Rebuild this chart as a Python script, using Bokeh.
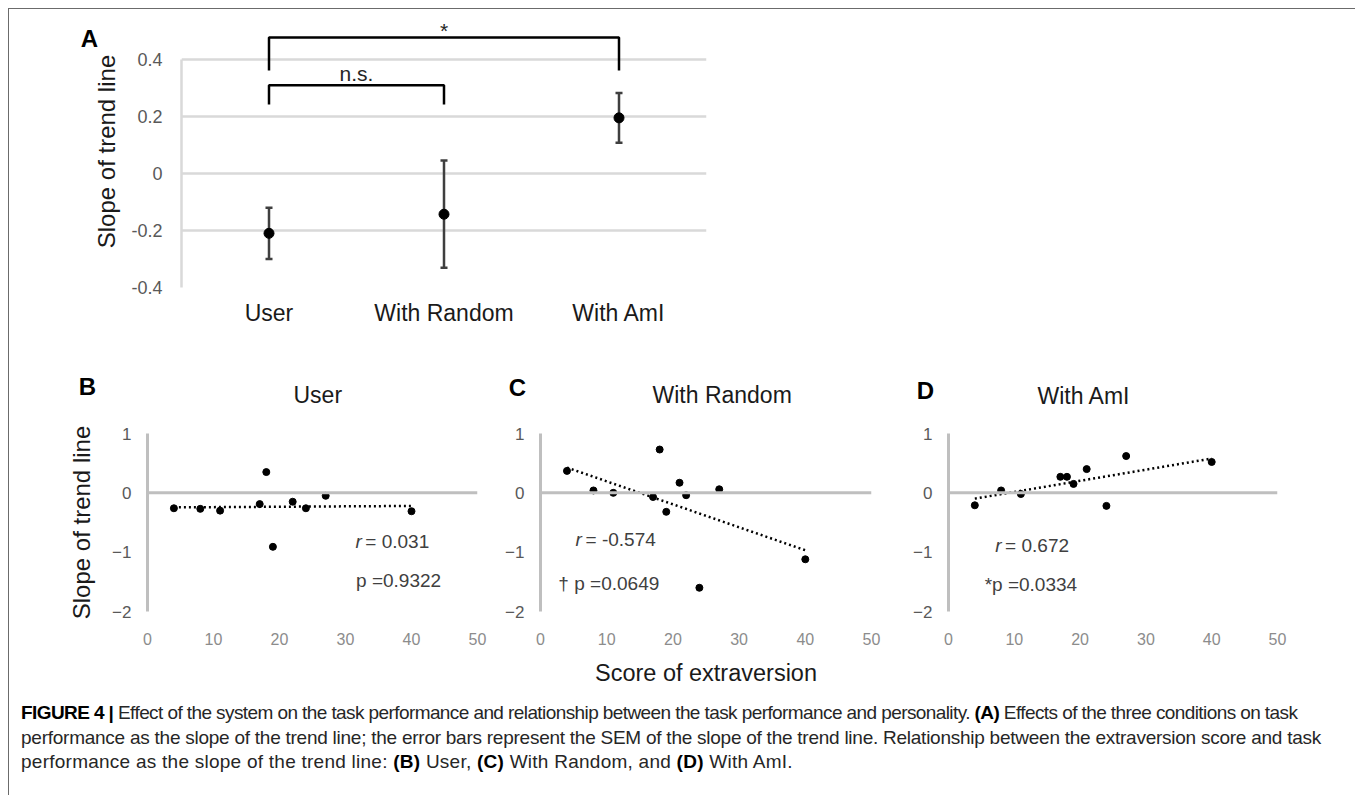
import numpy as np
from bokeh.plotting import figure
from bokeh.models import Range1d, FixedTicker, Span, CustomJSTickFormatter, Div
from bokeh.layouts import column, row
from bokeh.embed import file_html
from bokeh.resources import INLINE
from bokeh.core.properties import value

# ---------------- data ----------------
# Panel A
conditions = ["User", "With Random", "With AmI"]
cond_pos = [1, 2, 3]
slope_mean = [-0.21, -0.143, 0.195]
slope_sem = [0.09, 0.188, 0.087]

# significance brackets (pairs of condition positions)
bracket_left = [1, 1]
bracket_right = [3, 2]
bracket_top = [0.477, 0.309]
bracket_foot = [0.361, 0.242]
bracket_text = ["*", "n.s."]
bracket_text_y = [0.50, 0.352]

# Panels B-D : extraversion score vs slope of trend line
user_x = [4, 8, 11, 17, 18, 19, 22, 24, 27, 40]
user_y = [-0.26, -0.27, -0.30, -0.19, 0.35, -0.91, -0.15, -0.26, -0.05, -0.31]
random_x = [4, 8, 11, 17, 18, 19, 21, 22, 24, 27, 40]
random_y = [0.37, 0.04, 0.0, -0.07, 0.73, -0.32, 0.17, -0.04, -1.60, 0.06, -1.12]
aml_x = [4, 8, 11, 17, 18, 19, 21, 24, 27, 40]
aml_y = [-0.21, 0.04, -0.02, 0.27, 0.27, 0.15, 0.40, -0.22, 0.62, 0.52]

x_ticks = [0, 10, 20, 30, 40, 50]
y_ticks = [-2, -1, 0, 1]
a_ticks = [-0.4, -0.2, 0, 0.2, 0.4]

stats_r = ["0.031", "-0.574", "0.672"]
stats_p = ["p =0.9322", "\u2020 p =0.0649", "*p =0.0334"]

FONT = "Liberation Sans"
NUMFONT = "Liberation Sans"

# ---------------- Panel A ----------------
pA = figure(width=720, height=325, x_range=Range1d(0.5, 3.5), y_range=Range1d(-0.4, 0.554),
            output_backend="svg", toolbar_location=None,
            min_border_left=172, min_border_right=23, min_border_top=6, min_border_bottom=47)
pA.outline_line_color = None
pA.xgrid.visible = False
pA.ygrid.ticker = FixedTicker(ticks=a_ticks)
pA.ygrid.grid_line_color = "#d9d9d9"
pA.ygrid.grid_line_width = 2.5
pA.yaxis.ticker = FixedTicker(ticks=a_ticks)
pA.yaxis.formatter = CustomJSTickFormatter(code="return tick.toFixed(1).replace(/\\.0$/, '');")
pA.yaxis.bounds = (-0.4, 0.4)
pA.yaxis.axis_line_color = "#d9d9d9"
pA.yaxis.axis_line_width = 2.5
pA.yaxis.major_tick_line_color = None
pA.yaxis.minor_tick_line_color = None
pA.yaxis.major_label_text_font = NUMFONT
pA.yaxis.major_label_text_font_size = "18px"
pA.yaxis.major_label_text_color = "#595959"
pA.yaxis.major_label_standoff = 13
pA.yaxis.axis_label = "Slope of trend line"
pA.yaxis.axis_label_text_font = FONT
pA.yaxis.axis_label_text_font_style = "normal"
pA.yaxis.axis_label_text_font_size = "24px"
pA.yaxis.axis_label_text_color = "#1a1a1a"
pA.yaxis.axis_label_standoff = 8
pA.xaxis.ticker = FixedTicker(ticks=cond_pos)
pA.xaxis.major_label_overrides = {p: c for p, c in zip(cond_pos, conditions)}
pA.xaxis.axis_line_color = None
pA.xaxis.major_tick_line_color = None
pA.xaxis.minor_tick_line_color = None
pA.xaxis.major_label_text_font = FONT
pA.xaxis.major_label_text_font_size = "23px"
pA.xaxis.major_label_text_color = "#1a1a1a"
pA.xaxis.major_label_standoff = 6

lo = [m - s for m, s in zip(slope_mean, slope_sem)]
hi = [m + s for m, s in zip(slope_mean, slope_sem)]
pA.segment(x0=cond_pos, y0=lo, x1=cond_pos, y1=hi, line_color="#3f3f3f", line_width=2.5)
pA.scatter(x=cond_pos + cond_pos, y=lo + hi, marker="dash", size=7, line_width=2.5, line_color="#3f3f3f")
pA.scatter(x=cond_pos, y=slope_mean, size=10, color="black")

bxs = [[l, l, r, r] for l, r in zip(bracket_left, bracket_right)]
bys = [[f, t, t, f] for f, t in zip(bracket_foot, bracket_top)]
pA.multi_line(xs=bxs, ys=bys, line_color="black", line_width=2.5)
pA.text(x=[(l + r) / 2 for l, r in zip(bracket_left, bracket_right)], y=bracket_text_y, text=bracket_text,
        text_font=value(FONT), text_font_size="21px", text_color="#262626",
        text_align="center", text_baseline="middle")
rA = pA.text(x=[-0.026], y=[0.474], text=["A"], text_font=value(FONT), text_font_style="bold",
             text_font_size="24px", text_color="black", text_align="center", text_baseline="middle")
rA.level = "overlay"


# ---------------- Panels B-D ----------------
def scatter_panel(xs, ys, width, left, right, top, bottom, letter, letter_pos, title, title_offset,
                  title_standoff, r_txt, p_txt, r_pos, p_pos, ylabel=None, xlabel=None):
    p = figure(width=width, height=356, x_range=Range1d(0, 50), y_range=Range1d(-2, 1),
               output_backend="svg", toolbar_location=None,
               min_border_left=left, min_border_right=right, min_border_top=top, min_border_bottom=bottom)
    p.outline_line_color = None
    p.grid.visible = False
    p.title.text = title
    p.title.align = "left"
    p.title.offset = title_offset
    p.title.standoff = title_standoff
    p.title.text_font = FONT
    p.title.text_font_style = "normal"
    p.title.text_font_size = "23px"
    p.title.text_color = "#1a1a1a"
    p.xaxis.ticker = FixedTicker(ticks=x_ticks)
    p.xaxis.axis_line_color = None
    p.xaxis.major_tick_line_color = None
    p.xaxis.minor_tick_line_color = None
    p.xaxis.major_label_text_font = NUMFONT
    p.xaxis.major_label_text_font_size = "16px"
    p.xaxis.major_label_text_color = "#8c8c8c"
    p.xaxis.major_label_standoff = 15
    p.yaxis.ticker = FixedTicker(ticks=y_ticks)
    p.yaxis.bounds = (-2, 1)
    p.yaxis.axis_line_color = "#bfbfbf"
    p.yaxis.axis_line_width = 3
    p.yaxis.major_tick_line_color = None
    p.yaxis.minor_tick_line_color = None
    p.yaxis.major_label_text_font = NUMFONT
    p.yaxis.major_label_text_font_size = "17px"
    p.yaxis.major_label_text_color = "#595959"
    p.yaxis.major_label_standoff = 10
    if ylabel:
        p.yaxis.axis_label = ylabel
        p.yaxis.axis_label_text_font = FONT
        p.yaxis.axis_label_text_font_style = "normal"
        p.yaxis.axis_label_text_font_size = "24px"
        p.yaxis.axis_label_text_color = "#1a1a1a"
        p.yaxis.axis_label_standoff = 14
    if xlabel:
        p.xaxis.axis_label = xlabel
        p.xaxis.axis_label_text_font = FONT
        p.xaxis.axis_label_text_font_style = "normal"
        p.xaxis.axis_label_text_font_size = "23.5px"
        p.xaxis.axis_label_text_color = "#1a1a1a"
        p.xaxis.axis_label_standoff = 12
    p.add_layout(Span(location=0, dimension="width", line_color="#bfbfbf", line_width=3))
    # linear trend line (least squares)
    k, b = np.polyfit(xs, ys, 1)
    tx = [min(xs), max(xs)]
    p.line(x=tx, y=[k * t + b for t in tx], line_color="black", line_width=2.5, line_dash="2 3")
    p.scatter(x=xs, y=ys, size=7, color="black")
    rl = p.text(x=[letter_pos[0]], y=[letter_pos[1]], text=[letter], text_font=value(FONT),
                text_font_style="bold", text_font_size="24px", text_color="black",
                text_align="center", text_baseline="middle")
    rl.level = "overlay"
    p.text(x=[r_pos[0]], y=[r_pos[1]], text=["r"], text_font=value(NUMFONT), text_font_style="italic",
           text_font_size="19px", text_color="#404040", text_baseline="middle")
    p.text(x=[r_pos[0] + 1.5], y=[r_pos[1]], text=["= " + r_txt], text_font=value(NUMFONT),
           text_font_size="19px", text_color="#404040", text_baseline="middle")
    p.text(x=[p_pos[0]], y=[p_pos[1]], text=[p_txt], text_font=value(NUMFONT),
           text_font_size="19px", text_color="#404040", text_baseline="middle")
    return p


pB = scatter_panel(user_x, user_y, 480, 138, 12, 99, 76, "B", (-9.1, 1.80), "User", 146, 51,
                   stats_r[0], stats_p[0], (31.5, -0.82), (31.6, -1.47), ylabel="Slope of trend line")
pC = scatter_panel(random_x, random_y, 410, 51, 28, 99, 76, "C", (-3.5, 1.78), "With Random", 112, 51,
                   stats_r[1], stats_p[1], (5.3, -0.78), (2.7, -1.53), xlabel="Score of extraversion")
pD = scatter_panel(aml_x, aml_y, 448, 49, 70, 96, 79, "D", (-3.5, 1.73), "With AmI", 89, 49,
                   stats_r[2], stats_p[2], (7.1, -0.88), (5.5, -1.55))

caption_html = (
    '<div style="font-family: \'Liberation Sans\', Arial, sans-serif; font-size: 19px; line-height: 24.5px; '
    'color: #262626; padding-left: 7px; padding-top: 6px; white-space: nowrap;">'
    '<span style="letter-spacing:-0.59px"><b style="color:#000">FIGURE 4 |</b> Effect of the system on the task '
    'performance and relationship between the task performance and personality. <b style="color:#000">(A)</b> '
    'Effects of the three conditions on task</span><br>'
    '<span style="letter-spacing:-0.25px">performance as the slope of the trend line; the error bars represent the '
    'SEM of the slope of the trend line. Relationship between the extraversion score and task</span><br>'
    '<span style="letter-spacing:0.25px">performance as the slope of the trend line: <b style="color:#000">(B)</b> '
    'User, <b style="color:#000">(C)</b> With Random, and <b style="color:#000">(D)</b> With AmI.</span>'
    '</div>'
)
cap = Div(text=caption_html, width=1338, height=104)

layout = column(pA, row(pB, pC, pD), cap,
                styles={"margin-left": "8px", "margin-top": "8px",
                        "border-top": "1px solid #6b6b6b", "border-left": "1px solid #6b6b6b",
                        "border-right": "1px solid #6b6b6b", "background": "white"})

open("out.html", "w").write(file_html(layout, INLINE))
